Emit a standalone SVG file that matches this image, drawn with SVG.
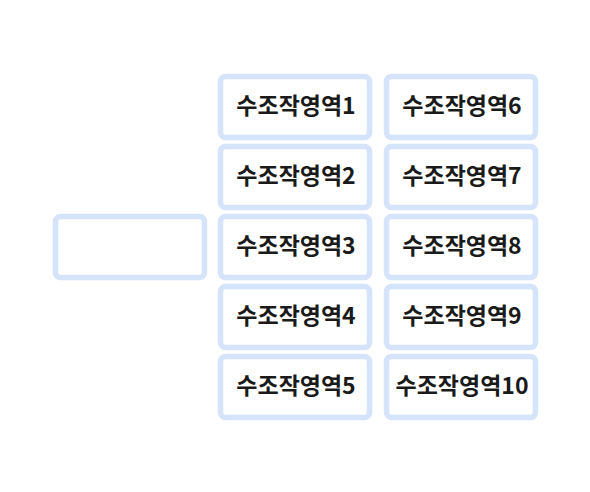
<svg xmlns="http://www.w3.org/2000/svg" width="590" height="492" viewBox="0 0 590 492">
<style>
.box{fill:#ffffff;stroke:#d5e4fb;stroke-width:5.5}
.t{font-family:"Noto Sans CJK KR","Noto Sans",sans-serif;font-size:23px;font-weight:700;fill:#1a1a1a;text-anchor:middle}
</style>
<rect width="590" height="492" fill="#ffffff"/>
<g id="main"><rect class="box" x="55.5" y="216.5" width="149" height="61" rx="5"/></g>
<g id="n1"><rect class="box" x="220.5" y="76.5" width="149" height="61" rx="5"/><text class="t" x="296" y="114">수조작영역1</text></g>
<g id="n2"><rect class="box" x="220.5" y="146.5" width="149" height="61" rx="5"/><text class="t" x="296" y="184">수조작영역2</text></g>
<g id="n3"><rect class="box" x="220.5" y="216.5" width="149" height="61" rx="5"/><text class="t" x="296" y="254">수조작영역3</text></g>
<g id="n4"><rect class="box" x="220.5" y="286.5" width="149" height="61" rx="5"/><text class="t" x="296" y="324">수조작영역4</text></g>
<g id="n5"><rect class="box" x="220.5" y="356.5" width="149" height="61" rx="5"/><text class="t" x="296" y="394">수조작영역5</text></g>
<g id="n6"><rect class="box" x="386.5" y="76.5" width="149" height="61" rx="5"/><text class="t" x="462" y="114">수조작영역6</text></g>
<g id="n7"><rect class="box" x="386.5" y="146.5" width="149" height="61" rx="5"/><text class="t" x="462" y="184">수조작영역7</text></g>
<g id="n8"><rect class="box" x="386.5" y="216.5" width="149" height="61" rx="5"/><text class="t" x="462" y="254">수조작영역8</text></g>
<g id="n9"><rect class="box" x="386.5" y="286.5" width="149" height="61" rx="5"/><text class="t" x="462" y="324">수조작영역9</text></g>
<g id="n10"><rect class="box" x="386.5" y="356.5" width="149" height="61" rx="5"/><text class="t" x="462" y="394">수조작영역10</text></g>
<g id="connectors"></g>
</svg>
